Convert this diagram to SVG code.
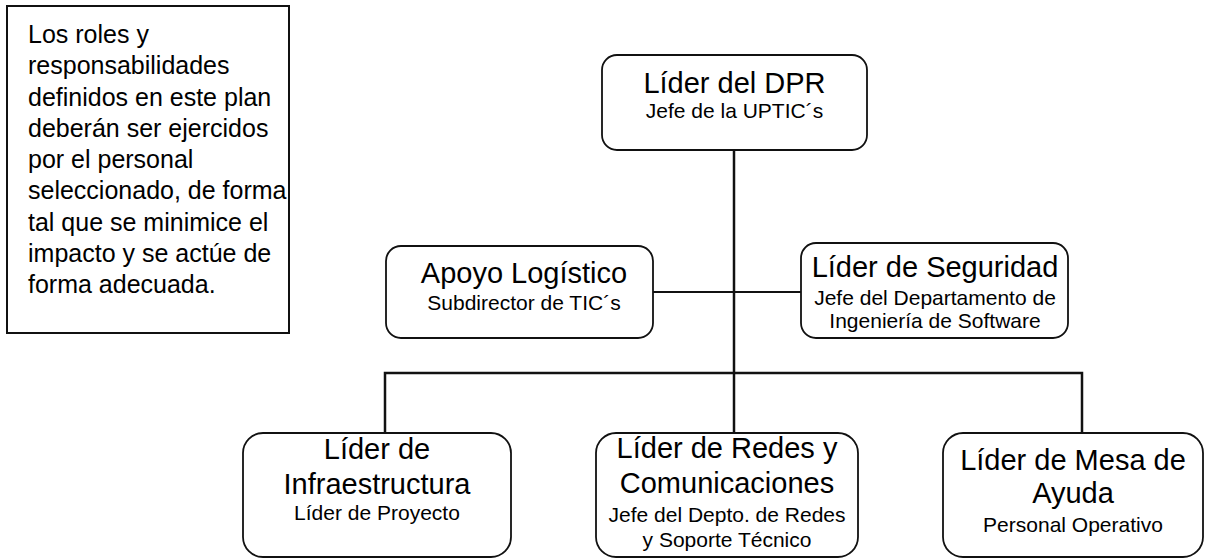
<svg xmlns="http://www.w3.org/2000/svg" width="1205" height="560" viewBox="0 0 1205 560">
<style>
.box{fill:#fff;stroke:#111;stroke-width:1.8}
.note{fill:#fff;stroke:#111;stroke-width:2}
.t{font-family:"Liberation Sans",Arial,sans-serif;font-size:29px;fill:#000;text-anchor:middle}
.s{font-family:"Liberation Sans",Arial,sans-serif;font-size:21px;fill:#000;text-anchor:middle}
.n{font-family:"Liberation Sans",Arial,sans-serif;font-size:25px;fill:#000}
.c{fill:none;stroke:#111;stroke-width:2.5}
.c2{fill:none;stroke:#111;stroke-width:1.8}
</style>
<g id="connectors">
<line class="c" x1="734" y1="150" x2="734" y2="373"/>
<line class="c2" x1="653" y1="292" x2="801" y2="292"/>
<polyline class="c" points="385,433 385,373 1082,373 1082,433"/>
<line class="c" x1="734" y1="373" x2="734" y2="433"/>
</g>
<g id="note">
<rect class="note" x="7" y="6" width="282" height="327"/>
<text class="n" x="28" y="43">Los roles y</text>
<text class="n" x="28" y="74">responsabilidades</text>
<text class="n" x="28" y="106">definidos en este plan</text>
<text class="n" x="28" y="137">deberán ser ejercidos</text>
<text class="n" x="28" y="168">por el personal</text>
<text class="n" x="28" y="199">seleccionado, de forma</text>
<text class="n" x="28" y="231">tal que se minimice el</text>
<text class="n" x="28" y="262">impacto y se actúe de</text>
<text class="n" x="28" y="293">forma adecuada.</text>
</g>
<g id="lider-dpr">
<rect class="box" x="602" y="55" width="265" height="95" rx="15"/>
<text class="t" x="734.5" y="93">Líder del DPR</text>
<text class="s" x="734.5" y="118">Jefe de la UPTIC´s</text>
</g>
<g id="apoyo-logistico">
<rect class="box" x="386" y="246" width="267" height="92" rx="15"/>
<text class="t" x="524" y="283">Apoyo Logístico</text>
<text class="s" x="524" y="310">Subdirector de TIC´s</text>
</g>
<g id="lider-seguridad">
<rect class="box" x="801" y="243" width="267" height="95" rx="15"/>
<text class="t" x="935" y="277">Líder de Seguridad</text>
<text class="s" x="935" y="305">Jefe del Departamento de</text>
<text class="s" x="935" y="328">Ingeniería de Software</text>
</g>
<g id="lider-infraestructura">
<rect class="box" x="243" y="433" width="268" height="124" rx="20"/>
<text class="t" x="377" y="459">Líder de</text>
<text class="t" x="377" y="494">Infraestructura</text>
<text class="s" x="377" y="520">Líder de Proyecto</text>
</g>
<g id="lider-redes">
<rect class="box" x="596" y="433" width="262" height="124" rx="20"/>
<text class="t" x="727" y="458">Líder de Redes y</text>
<text class="t" x="727" y="493">Comunicaciones</text>
<text class="s" x="727" y="522">Jefe del Depto. de Redes</text>
<text class="s" x="727" y="547">y Soporte Técnico</text>
</g>
<g id="lider-mesa">
<rect class="box" x="943" y="433" width="260" height="124" rx="20"/>
<text class="t" x="1073" y="470">Líder de Mesa de</text>
<text class="t" x="1073" y="503">Ayuda</text>
<text class="s" x="1073" y="532">Personal Operativo</text>
</g>
</svg>
